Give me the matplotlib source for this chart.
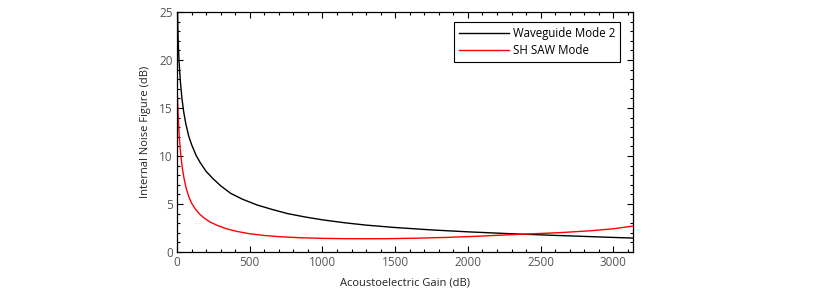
import matplotlib
matplotlib.use('Agg')
import matplotlib.pyplot as plt
from matplotlib.ticker import MultipleLocator

plt.rcParams['font.family'] = ['Open Sans', 'DejaVu Sans']

# valores
gain_wg = [1, 3, 6, 10, 16, 24, 34, 46, 60, 80, 100, 130, 160, 200, 250, 300, 370, 450,
           550, 650, 760, 880, 1000, 1150, 1300, 1500, 1750, 2000, 2300, 2600, 2900, 3135]
nf_wg = [29.0, 26.0, 23.2, 21.2, 19.4, 17.6, 16.0, 14.6, 13.4, 12.1, 11.2, 10.1, 9.3, 8.4,
         7.6, 6.9, 6.1, 5.5, 4.9, 4.45, 4.0, 3.65, 3.35, 3.05, 2.8, 2.55, 2.3, 2.1, 1.9,
         1.73, 1.57, 1.45]

gain_sh = [0, 3, 6, 10, 15, 21, 28, 37, 48, 62, 80, 100, 125, 155, 190, 230, 280, 340,
           410, 500, 600, 720, 860, 1000, 1150, 1300, 1450, 1650, 1850, 2050, 2250, 2450,
           2650, 2850, 3000, 3135]
nf_sh = [17.3, 16.2, 15.0, 13.6, 12.2, 10.9, 9.8, 8.7, 7.7, 6.7, 5.8, 5.1, 4.5, 3.95,
         3.5, 3.1, 2.75, 2.42, 2.15, 1.9, 1.72, 1.58, 1.48, 1.42, 1.39, 1.38, 1.39, 1.44,
         1.52, 1.63, 1.77, 1.9, 2.03, 2.22, 2.42, 2.7]

fig = plt.figure(figsize=(8.3, 2.94), dpi=100)
ax = fig.add_axes([177 / 830, 42 / 294, 456 / 830, 240 / 294])

ax.plot(gain_wg, nf_wg, color='black', lw=1.0, label='Waveguide Mode 2')
ax.plot(gain_sh, nf_sh, color='red', lw=1.0, label='SH SAW Mode')

ax.set_xlim(0, 3135)
ax.set_ylim(0, 25)
ax.xaxis.set_major_locator(MultipleLocator(500))
ax.xaxis.set_minor_locator(MultipleLocator(100))
ax.yaxis.set_major_locator(MultipleLocator(5))
ax.yaxis.set_minor_locator(MultipleLocator(1))
ax.tick_params(which='both', direction='in', top=True, right=True,
               labelsize=8.5, labelcolor='#555555', width=0.8)
ax.tick_params(which='major', length=4, pad=3)
ax.tick_params(which='minor', length=2)
for s in ax.spines.values():
    s.set_linewidth(0.9)

ax.set_xlabel('Acoustoelectric Gain (dB)', fontsize=8, color='#222222', labelpad=6)
ax.set_ylabel('Internal Noise Figure (dB)', fontsize=8, color='#222222', labelpad=6)

leg = ax.legend(loc='upper right', bbox_to_anchor=(0.9715, 0.958), borderaxespad=0,
                fontsize=8.3, handlelength=4.3, handletextpad=0.35, borderpad=0.45,
                labelspacing=0.3, fancybox=False, edgecolor='black', framealpha=1)
leg.get_frame().set_linewidth(0.8)

fig.savefig('out.png', dpi=100)
